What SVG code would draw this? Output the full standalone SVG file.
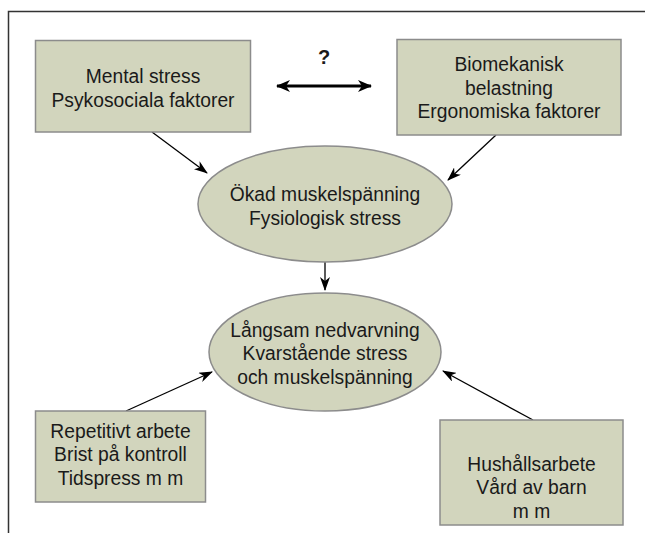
<svg xmlns="http://www.w3.org/2000/svg" width="645" height="533" viewBox="0 0 645 533">
<style>
.box{fill:#d2d5bd;stroke:#8c8c8c;stroke-width:1.5}
.ell{fill:#d2d5bd;stroke:#8c8c8c;stroke-width:1.5}
.t{font-family:"Liberation Sans",Arial,sans-serif;font-size:21px;fill:#1a1a1a;text-anchor:middle}
.q{font-family:"Liberation Sans",Arial,sans-serif;font-size:20px;font-weight:bold;fill:#1a1a1a;text-anchor:middle}
.c{stroke:#000;stroke-width:1.3;fill:none;marker-end:url(#ah)}
.d{stroke:#000;stroke-width:3;fill:none;marker-end:url(#ah2);marker-start:url(#ah2)}
</style>
<defs>
<marker id="ah" viewBox="0 0 14 10" refX="13" refY="5" markerWidth="14" markerHeight="10" markerUnits="userSpaceOnUse" orient="auto">
<path d="M0,0 L14,5 L0,10 L4,5 z" fill="#000"/>
</marker>
<marker id="ah2" viewBox="0 0 14 12" refX="13" refY="6" markerWidth="14" markerHeight="12" markerUnits="userSpaceOnUse" orient="auto-start-reverse">
<path d="M0,0 L14,6 L0,12 L4,6 z" fill="#000"/>
</marker>
</defs>
<rect x="8.5" y="11.5" width="700" height="600" fill="#fff" stroke="#333" stroke-width="1.5"/>
<g id="connectors">
<line class="d" x1="277" y1="86" x2="371" y2="86"/>
<line class="c" x1="152" y1="132" x2="207" y2="173"/>
<line class="c" x1="496" y1="135" x2="448" y2="180"/>
<line class="c" x1="325" y1="262" x2="325" y2="290"/>
<line class="c" x1="126" y1="411" x2="212" y2="372"/>
<line class="c" x1="533" y1="420" x2="443" y2="371"/>
</g>
<text class="q" x="324" y="64">?</text>
<g id="mental">
<rect class="box" x="35.5" y="40.5" width="215" height="91.5"/>
<g transform="translate(143,0) scale(0.918,1)">
<text class="t" x="0" y="83">Mental stress</text>
<text class="t" x="0" y="107">Psykosociala faktorer</text>
</g>
</g>
<g id="biomek">
<rect class="box" x="397" y="39.5" width="224" height="95.5"/>
<g transform="translate(509,0) scale(0.918,1)">
<text class="t" x="0" y="71.5">Biomekanisk</text>
<text class="t" x="0" y="95">belastning</text>
<text class="t" x="0" y="118.5">Ergonomiska faktorer</text>
</g>
</g>
<g id="okad">
<ellipse class="ell" cx="325" cy="204" rx="127" ry="58"/>
<g transform="translate(325,0) scale(0.918,1)">
<text class="t" x="0" y="201.5">Ökad muskelspänning</text>
<text class="t" x="0" y="225">Fysiologisk stress</text>
</g>
</g>
<g id="langsam">
<ellipse class="ell" cx="325" cy="352" rx="116" ry="59"/>
<g transform="translate(325,0) scale(0.918,1)">
<text class="t" x="0" y="337">Långsam nedvarvning</text>
<text class="t" x="0" y="360.5">Kvarstående stress</text>
<text class="t" x="0" y="384">och muskelspänning</text>
</g>
</g>
<g id="repetitivt">
<rect class="box" x="35.5" y="411" width="170" height="91"/>
<g transform="translate(120.5,0) scale(0.918,1)">
<text class="t" x="0" y="438">Repetitivt arbete</text>
<text class="t" x="0" y="461.5">Brist på kontroll</text>
<text class="t" x="0" y="485">Tidspress m m</text>
</g>
</g>
<g id="hushall">
<rect class="box" x="440" y="420" width="183" height="105"/>
<g transform="translate(531.5,0) scale(0.918,1)">
<text class="t" x="0" y="471">Hushållsarbete</text>
<text class="t" x="0" y="494.5">Vård av barn</text>
<text class="t" x="0" y="518">m m</text>
</g>
</g>
</svg>
